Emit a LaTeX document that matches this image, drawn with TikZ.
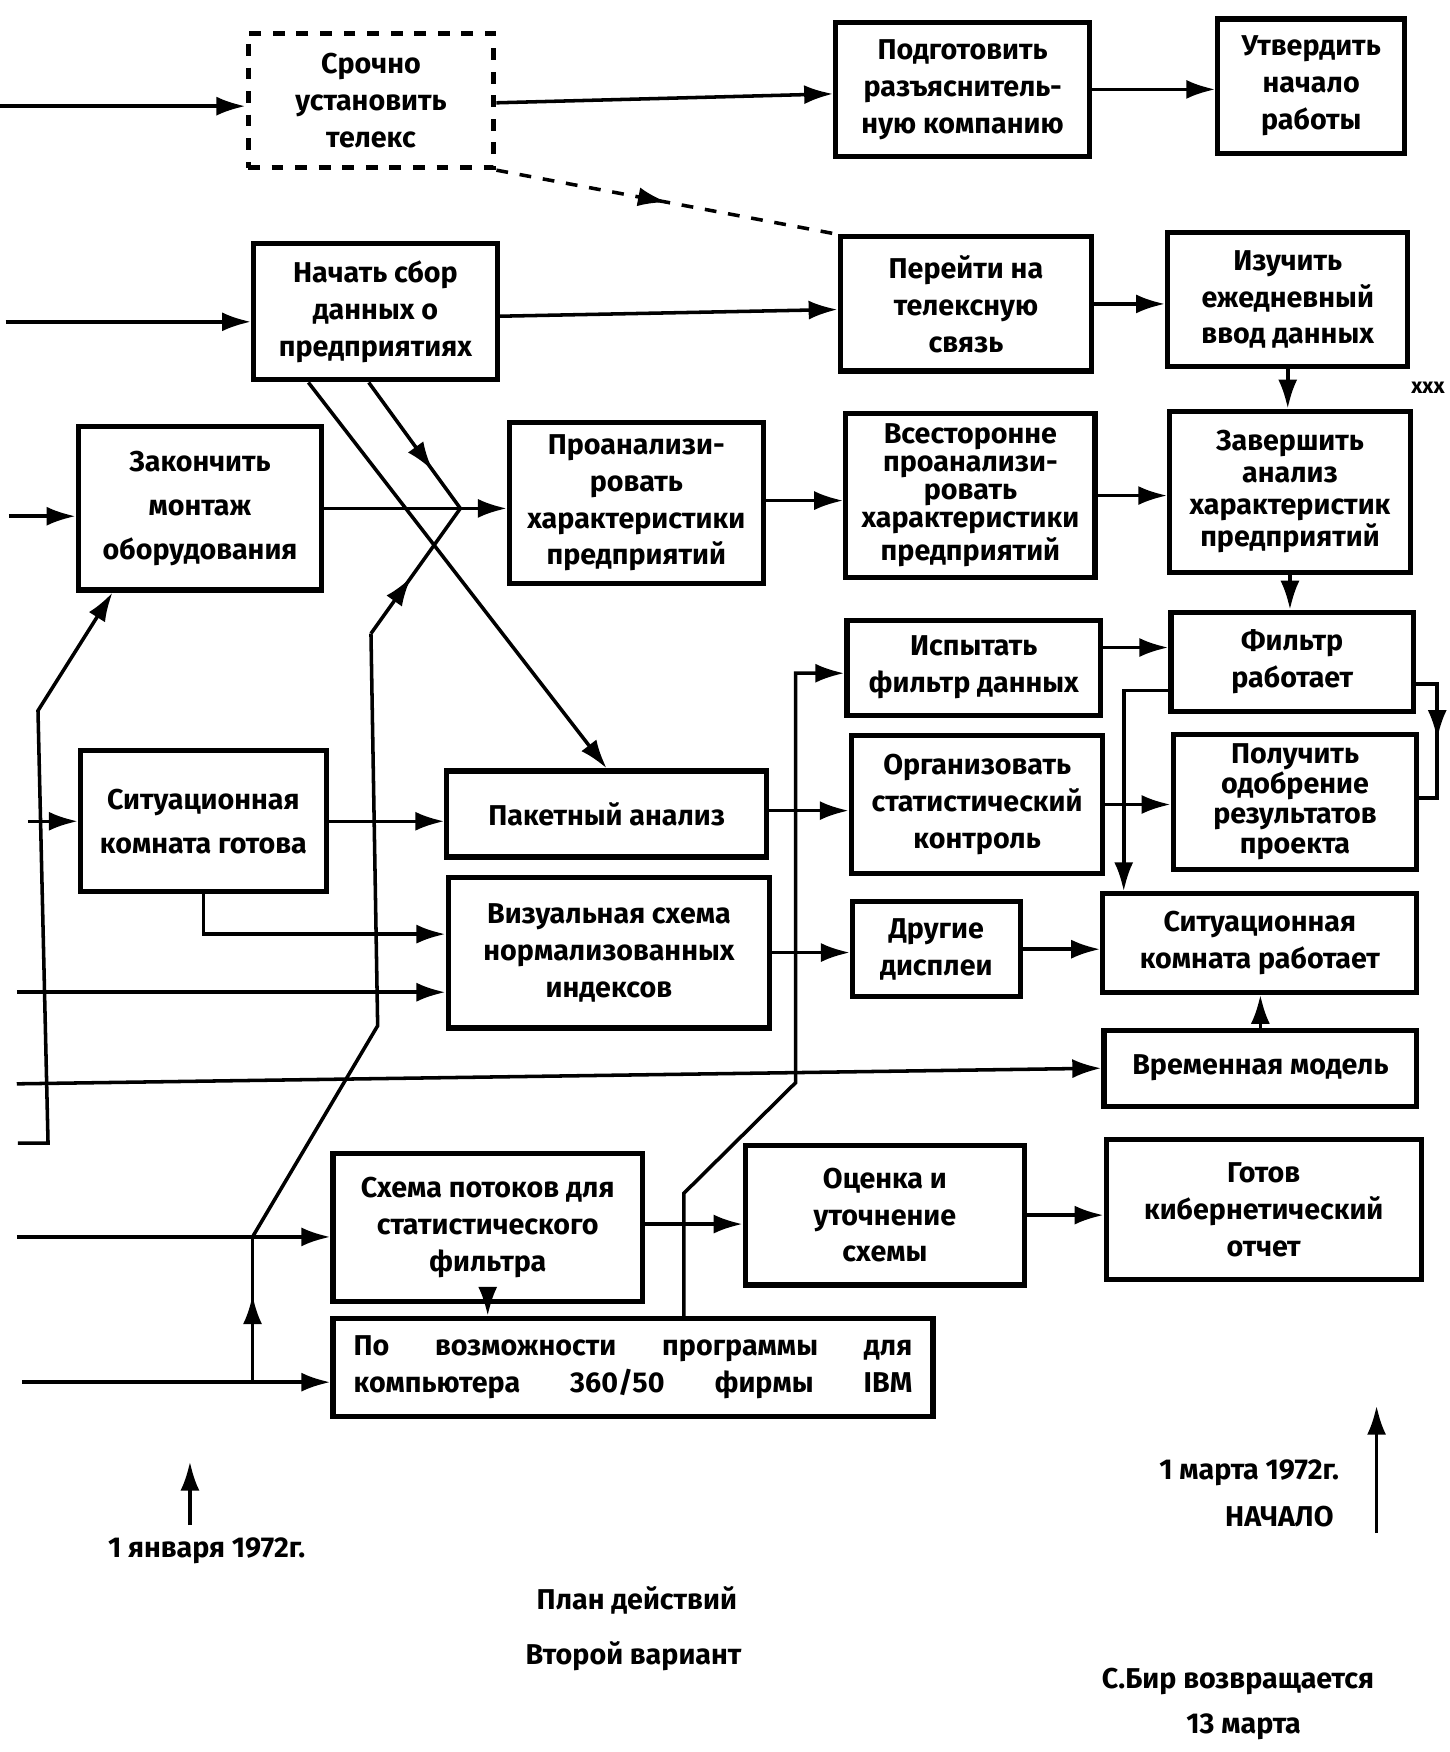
\documentclass[tikz,border=0pt]{standalone}
\usepackage{fontspec}
\setmainfont{Fira Sans}
\usetikzlibrary{arrows.meta,decorations.markings}

\begin{document}
\begin{tikzpicture}[x=0.1mm,y=-0.1mm,font=\fontsize{7.3}{9.4}\selectfont\bfseries,
   bx/.style={draw,line width=1.3pt,align=center,inner sep=0pt},
   ln/.style={line width=0.9pt},
   ar/.style={ln,-{Latex[length=2.6mm,width=1.7mm]}},
   mid/.style={ln,postaction={decorate},decoration={markings,
      mark=at position #1 with {\arrow{Latex[length=2.6mm,width=1.7mm]}}}}]
  \useasboundingbox (0,0) rectangle (1297,1568);
  \node[bx,dashed,minimum width=22mm,minimum height=12mm] (sr) at (332,90)
       {Срочно\\установить\\телекс};
  \node[bx,minimum width=22.7mm,minimum height=12mm] (pg) at (861.5,80)
       {Подготовить\\разъяснитель-\\ную компанию};
  \node[bx,minimum width=16.7mm,minimum height=12mm] (ut) at (1173.5,77)
       {Утвердить\\начало\\работы};
  \node[bx,minimum width=21.8mm,minimum height=12.2mm] (nc) at (336,279)
       {Начать сбор\\данных о\\предприятиях};
  \node[bx,minimum width=22.5mm,minimum height=12mm] (pt) at (864.5,272)
       {Перейти на\\телексную\\связь};
  \node[bx,minimum width=21.5mm,minimum height=12mm] (iz) at (1152.5,268)
       {Изучить\\ежедневный\\ввод данных};
  \node[bx,minimum width=21.8mm,minimum height=14.6mm,
        font=\fontsize{7.3}{11.2}\selectfont\bfseries] (zk) at (179,455)
       {Закончить\\монтаж\\оборудования};
  \node[bx,minimum width=22.7mm,minimum height=14.4mm] (pr) at (569.5,450)
       {Проанализи-\\ровать\\характеристики\\предприятий};
  \node[bx,minimum width=22.3mm,minimum height=14.7mm,
        font=\fontsize{7.3}{7.1}\selectfont\bfseries] (vs) at (868.5,443.5)
       {Всесторонне\\проанализи-\\ровать\\характеристики\\предприятий};
  \node[bx,minimum width=21.5mm,minimum height=14.4mm,
        font=\fontsize{7.3}{8.2}\selectfont\bfseries] (zv) at (1154.5,440)
       {Завершить\\анализ\\характеристик\\предприятий};
  \node[bx,minimum width=22.7mm,minimum height=8.5mm] (is) at (871.5,597.5)
       {Испытать\\фильтр данных};
  \node[bx,minimum width=21.7mm,minimum height=8.9mm] (fr) at (1156.5,592.5)
       {Фильтр\\работает};
  \node[bx,minimum width=21.8mm,minimum height=12.1mm,
        font=\fontsize{7.3}{7.7}\selectfont\bfseries] (po) at (1159,717.5)
       {Получить\\одобрение\\результатов\\проекта};
  \node[bx,minimum width=22mm,minimum height=12.6mm,
        font=\fontsize{7.3}{11.2}\selectfont\bfseries] (sg) at (182,735)
       {Ситуационная\\комната готова};
  \node[bx,minimum width=28.6mm,minimum height=7.7mm] (pa) at (543,728.5)
       {Пакетный анализ};
  \node[bx,minimum width=22.5mm,minimum height=12.4mm] (og) at (874.5,720)
       {Организовать\\статистический\\контроль};
  \node[bx,minimum width=28.8mm,minimum height=13.5mm] (vz) at (545,852.5)
       {Визуальная схема\\нормализованных\\индексов};
  \node[bx,minimum width=15mm,minimum height=8.5mm] (dr) at (838,849.5)
       {Другие\\дисплеи};
  \node[bx,minimum width=28.1mm,minimum height=8.8mm] (sw) at (1127.5,844)
       {Ситуационная\\комната работает};
  \node[bx,minimum width=28mm,minimum height=6.8mm] (vm) at (1128,956)
       {Временная модель};
  \node[bx,minimum width=27.7mm,minimum height=13.3mm] (sh) at (436.5,1098.5)
       {Схема потоков для\\статистического\\фильтра};
  \node[bx,minimum width=25mm,minimum height=12.5mm] (oc) at (792,1087.5)
       {Оценка и\\уточнение\\схемы};
  \node[bx,minimum width=28.2mm,minimum height=12.5mm] (gt) at (1131,1082.5)
       {Готов\\кибернетический\\отчет};
  \node[bx,minimum width=53.7mm,minimum height=8.8mm,align=left] (ib) at (566.5,1224)
       {\makebox[50mm][s]{По возможности программы для}\\
        \makebox[50mm][s]{компьютера 360/50 фирмы IBM}};
  \node[font=\fontsize{5.5}{6}\selectfont\bfseries] (xx) at (1278,347) {xxx};

  \coordinate (i1) at (0,95);
  \coordinate (i2) at (5,288);
  \coordinate (i3) at (8,462);
  \coordinate (i4) at (25,735);
  \coordinate (i5) at (15,888);
  \coordinate (i6) at (15,970);
  \coordinate (i7) at (16,1023);
  \coordinate (i8) at (15,1107);
  \coordinate (i9) at (20,1237);
  \coordinate (k1) at (43,1023);
  \coordinate (k2) at (34,636);
  \coordinate (k3) at (338,918);
  \coordinate (k4) at (332,567);
  \coordinate (k5) at (612,1068);
  \coordinate (k6) at (712,969);
  \coordinate (jA) at (412,455);
  \coordinate (jB) at (226,1107);
  \coordinate (jC) at (226,1237);

  \draw[ar] (i1) -- (sr.west |- i1);
  \draw[ar] (i2) -- (nc.west |- i2);
  \draw[ar] (i3) -- (zk.west |- i3);
  \draw[ar] (i4) -- (sg.west |- i4);
  \draw[ar] (i5) -- (vz.west |- i5);
  \draw[ar] (i6) -- (vm.west);
  \draw[ar] (i7) -- (k1) -- (k2) -- ([xshift=3.3mm]zk.south west);
  \draw[ar] (i8) -- (sh.west |- i8);
  \draw[ar] (i9) -- (ib.west |- i9);

  \draw[ar] ([yshift=-0.2mm]sr.east) -- ([yshift=-0.4mm]pg.west);
  \draw[ar] (pg.east) -- (ut.west |- pg.east);
  \draw[mid=0.5,dashed] (sr.south east) -- (pt.north west);
  \draw[ar] ([yshift=-0.4mm]nc.east) -- ([yshift=-0.5mm]pt.west);
  \draw[ar] (pt.east) -- (pt.east -| iz.west);
  \draw[ar] (iz.south) -- (iz.south |- zv.north);
  \draw[ar] (zv.south) -- (zv.south |- fr.north);
  \draw[ar] (zk.east) -- (zk.east -| pr.west);
  \draw[ar] ([yshift=0.2mm]pr.east) -- ([yshift=0.2mm]pr.east -| vs.west);
  \draw[ar] (vs.east) -- (vs.east -| zv.west);
  \draw[ar] ([xshift=-6mm]nc.south) -- (pa.north);
  \draw[mid=0.7] ([xshift=-0.6mm]nc.south) -- (jA);
  \draw[mid=0.6] (jC) -- (jB);
  \draw[ln] (jB) -- (k3) -- (k4);
  \draw[mid=0.45] (k4) -- (jA);
  \draw[ar] ([yshift=1.8mm]is.east) -- ([yshift=1.8mm]is.east -| fr.west);
  \draw[ar] ([yshift=-2.55mm]fr.west) -| ([xshift=2.1mm]sw.north west);
  \draw[mid=0.5] ([yshift=-1.95mm]fr.east) -- ++(19,0) |- ([yshift=0.35mm]po.east);
  \draw[ar] (sg.east) -- (sg.east -| pa.west);
  \draw[ar] (sg.south) |- ([yshift=1.65mm]vz.west);
  \draw[ar] ([yshift=0.3mm]pa.east) -- ([yshift=0.3mm]pa.east -| og.west);
  \draw[ar] (og.east) -- (og.east -| po.west);
  \draw[ar] (vz.east) -- (vz.east -| dr.west);
  \draw[ar] (dr.east) -- (dr.east -| sw.west);
  \draw[ar] (vm.north) -- (vm.north |- sw.south);
  \draw[ar] (sh.south) -- (sh.south |- ib.north);
  \draw[ar] ([yshift=0.3mm]sh.east) -- ([yshift=0.3mm]sh.east -| oc.west);
  \draw[ar] (oc.east) -- (oc.east -| gt.west);
  \draw[ar] ([xshift=4.55mm]ib.north) -- (k5) -- (k6) |- ([yshift=-0.5mm]is.west);

  \coordinate (t1) at (170,1365);
  \coordinate (t2) at (1232,1372);
  \draw[ar] (t1) -- ++(0,-57);
  \draw[ar] (t2) -- ++(0,-114);
  \node (d1) at (185,1388) {1 января 1972г.};
  \node (d2) at (1118,1318) {1 марта 1972г.};
  \node (d3) at (1145,1357) {НАЧАЛО};
  \node (pl) at (570,1432) {План действий};
  \node (vv) at (567,1482) {Второй вариант};
  \node (sb) at (1108,1505) {С.Бир возвращается};
  \node (mr) at (1113,1545) {13 марта};
\end{tikzpicture}
\end{document}
